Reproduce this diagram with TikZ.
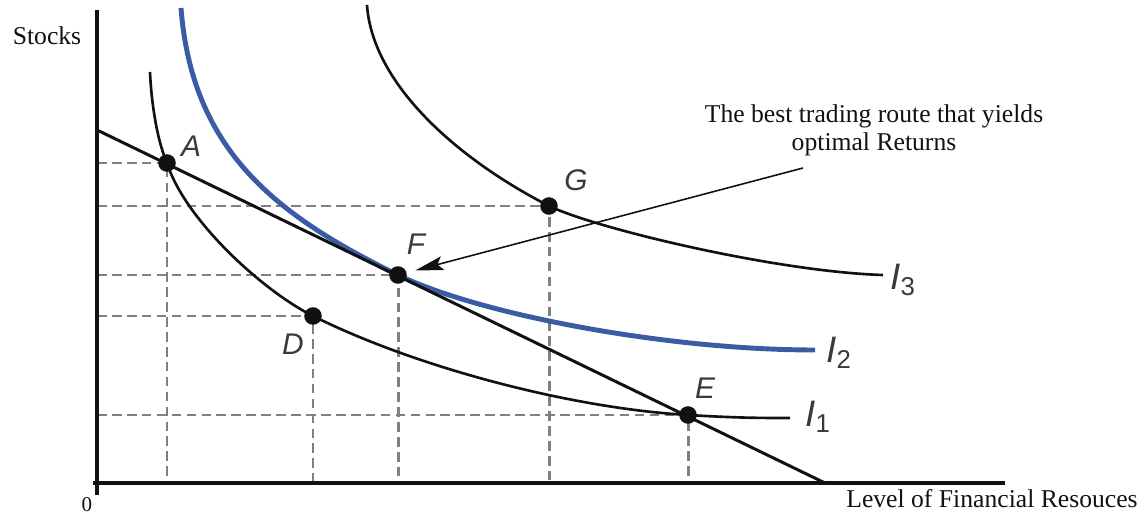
\documentclass[tikz,border=0pt]{standalone}
\usepackage{fontspec}
\setmainfont{Liberation Serif}
\newfontfamily\letra{Liberation Sans}
\usepackage{tikz}
\usetikzlibrary{arrows.meta,positioning}
\definecolor{tinta}{HTML}{111111}
\definecolor{gris}{HTML}{808080}
\definecolor{azul}{HTML}{3B5BA5}
\definecolor{rotulo}{HTML}{3A3A3A}

\begin{document}
\begin{tikzpicture}[x=0.02cm,y=-0.02cm,
  eje/.style={line width=2.3pt,tinta},
  curva/.style={line width=1.5pt,tinta},
  guia/.style={line width=1.7pt,gris,dash pattern=on 5.5pt off 3pt},
  punto/.style={circle,fill=tinta,inner sep=0pt,minimum size=10pt},
  etiq/.style={font=\fontsize{17}{17}\letra\itshape,text=rotulo,inner sep=0pt},
  curvalbl/.style={font=\fontsize{21}{21}\letra\itshape,text=rotulo,anchor=base west,inner sep=0pt},
  texto/.style={font=\fontsize{14.6}{16}\selectfont,text=tinta,inner sep=0pt},
  flecha/.style={-{Stealth[length=16pt,width=8pt,inset=3pt]},line width=0.9pt,tinta}]
\useasboundingbox (0,0) rectangle (1145,519);
% ejes
\coordinate (o) at (97,483);
\coordinate (ytop) at (97,10);
\coordinate (ybot) at (97,495);
\coordinate (xini) at (93,483);
\coordinate (xend) at (1005,483);
% puntos
\coordinate (A) at (167,163);
\coordinate (D) at (313,316);
\coordinate (F) at (398,275);
\coordinate (G) at (549,206);
\coordinate (E) at (688,415);
% guias
\foreach \p in {A,D,F,G,E}
  \draw[guia] (o |- \p) -- (\p) -- (\p |- o);
% curvas de indiferencia
\draw[curva] (150,72) .. controls (151,97) and (156,138) .. (A)
  .. controls (185,220) and (263,291) .. (D)
  .. controls (413,366) and (568,408) .. (E)
  .. controls (738,418) and (760,418) .. (790,418);
\draw[curva,azul,line width=2.8pt] (181,8) .. controls (192,150) and (275,215) .. (F)
  .. controls (478,314) and (665,350) .. (815,350);
\draw[curva] (367,5) .. controls (372,80) and (450,155) .. (G)
  .. controls (600,230) and (780,272) .. (883,275);
% recta presupuestaria
\coordinate (rini) at (97,130);
\coordinate (rfin) at (825,483);
\draw[curva,line width=1.7pt] (rini) -- (rfin);
\draw[eje] (ytop) -- (ybot);
\draw[eje] (xini) -- (xend);
\foreach \p in {A,D,F,G,E}
  \node[punto] (pt\p) at (\p) {};
\node[etiq] (lA) at (191,146) {A};
\node[etiq] (lF) at (416,244) {F};
\node[etiq] (lG) at (576,180) {G};
\node[etiq] (lD) at (293,344) {D};
\node[etiq] (lE) at (705,388) {E};
\node[curvalbl] (i1) at (805,427) {I\textsubscript{\upshape 1}};
\node[curvalbl] (i2) at (826,363) {I\textsubscript{\upshape 2}};
\node[curvalbl] (i3) at (890,290) {I\textsubscript{\upshape 3}};
% textos
\node[texto] (stocks) at (47,36) {Stocks};
\node[texto,font=\fontsize{12}{12}\selectfont] (cero) at (87,505) {0};
\node[texto,anchor=east] (nivel) at (1138,499) {Level of Financial Resouces};
\node[texto,align=center] (nota) at (874,130) {The best trading route that yields\\optimal Returns};
\coordinate (cola) at (803,168);
\draw[flecha,shorten >=5pt] (cola) -- (ptF);
\end{tikzpicture}
\end{document}
